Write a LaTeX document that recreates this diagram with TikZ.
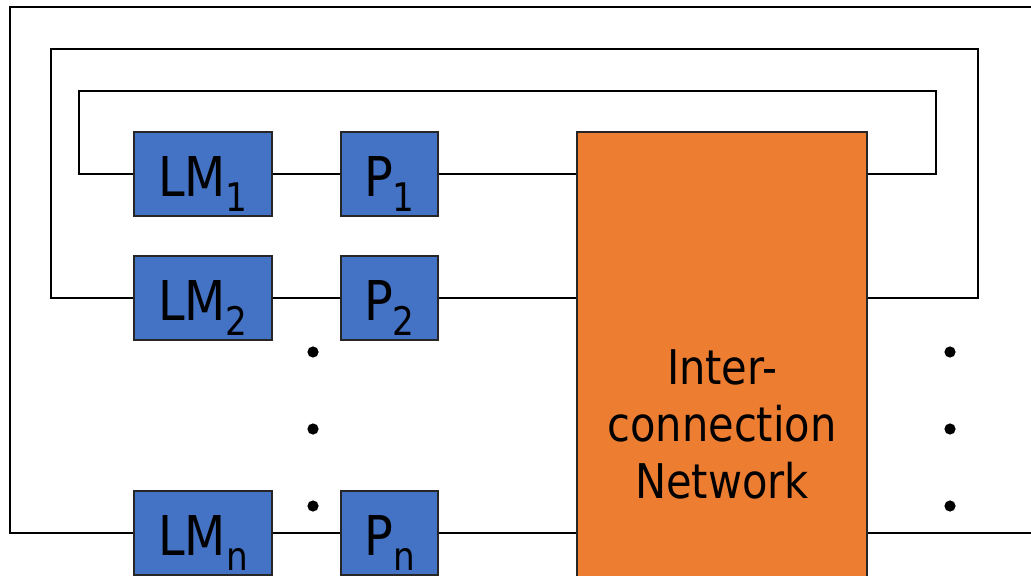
\documentclass[tikz,border=0pt]{standalone}
\usepackage{fontspec}
\setmainfont{DejaVu Sans}[FakeStretch=0.87]
\usepackage{tikz}
\usetikzlibrary{positioning}
\definecolor{memblue}{RGB}{68,114,196}
\definecolor{netorange}{RGB}{237,125,49}

\newcommand{\lbl}[2]{#1\raisebox{-0.38cm}{\fontsize{28}{28}\selectfont #2}}

\tikzset{
  unit/.style={draw=black!85,line width=0.8pt,fill=memblue,inner sep=0pt,
    minimum height=2.1cm,text height=1.6cm,text depth=0.5cm,
    font=\fontsize{39}{39}\selectfont},
  lmbox/.style={unit,minimum width=3.45cm},
  pbox/.style={unit,minimum width=2.425cm},
  wire/.style={line width=1.3pt},
}

\begin{document}
\begin{tikzpicture}[x=0.025cm,y=-0.025cm]
  \useasboundingbox (0,0) rectangle (1031,576);
  \clip (0,0) rectangle (1031,576);
  \fill[white] (0,0) rectangle (1031,576);

  \node[lmbox] (lm1) at (203,174) {\lbl{LM}{1}};
  \node[lmbox] (lm2) at (203,298) {\lbl{LM}{2}};
  \node[lmbox] (lmn) at (203,533) {\lbl{LM}{n}};
  \node[pbox] (p1) at (389.5,174) {\lbl{P}{1}};
  \node[pbox] (p2) at (389.5,298) {\lbl{P}{2}};
  \node[pbox] (pn) at (389.5,533) {\lbl{P}{n}};
  \node[draw=black!85,line width=1pt,fill=netorange,inner sep=0pt,
    minimum width=7.25cm,minimum height=14.6cm,align=center,
    font=\fontsize{34}{40.5}\selectfont] (net) at (722,424)
    {Inter-\\connection\\Network};

  \coordinate (outer) at (10,7);
  \coordinate (outerR) at (1040,7);
  \coordinate (outerB) at (1040,533);

  % rows
  \draw[wire] (lm1) -- (p1) -- (net.west |- p1);
  \draw[wire] (lm2) -- (p2) -- (net.west |- p2);
  \draw[wire] (lmn) -- (pn) -- (net.west |- pn);

  % feedback loops
  \draw[wire] (lm1.west) -| (79,91) -| (936,174) -- (net.east |- lm1);
  \draw[wire] (lm2.west) -| (51,49) -| (978,298) -- (net.east |- lm2);
  \draw[wire] (lmn.west) -| (outer) -- (outerR);
  \draw[wire] (net.east |- lmn) -- (outerB);

  \foreach \y in {352,429,506}{
    \fill (313,\y) circle (0.14cm);
    \fill (950,\y) circle (0.14cm);
  }
\end{tikzpicture}
\end{document}
